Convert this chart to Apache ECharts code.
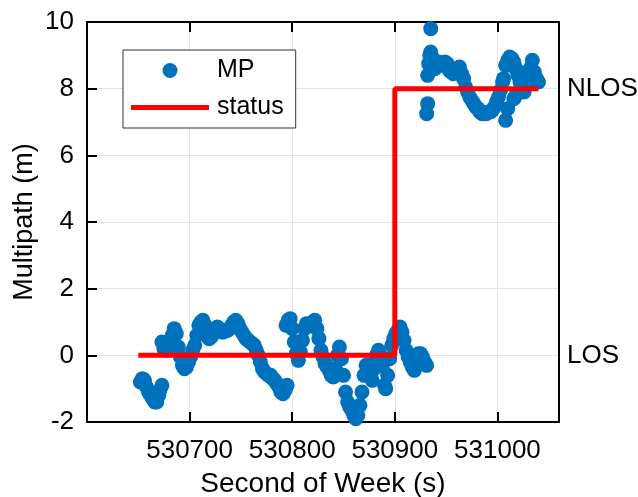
<!DOCTYPE html>
<html><head><meta charset="utf-8">
<script src="https://cdn.jsdelivr.net/npm/echarts@6/dist/echarts.min.js"></script>
<style>html,body{margin:0;padding:0;background:#fff}#c{width:638px;height:497px}</style>
</head><body><div id="c"></div>
<script>
const mpTime = [
530652,530654,530656,530658,530660,530662,530664,530666,530668,530670,530671,530673,
530673,530675,530677,530679,530681,530683,530685,530687,530689,530691,530693,530695,530697,530699,
530701,530703,530705,530707,530709,530711,530713,530715,530717,530719,530721,530723,530725,530727,
530729,530731,530733,530735,530737,530739,530741,530743,530745,530747,530749,530751,530753,530755,
530757,530759,530761,530763,530765,530767,530769,530771,530773,530775,530777,530779,530781,530783,
530785,530787,530789,530791,530793,530795,
530794,530796,530798,530800,530802,530804,530806,530808,530810,530812,530814,530816,530818,530820,
530822,530824,530826,530828,530830,530832,530834,530836,530838,530840,530842,530844,530846,530848,
530850,530852,530854,530856,530858,530860,530862,530864,530866,530868,530870,530872,530874,530876,
530878,530880,530882,530884,530886,530888,530890,530891,530893,530895,530897,530899,530901,530903,
530905,530907,530909,530911,530913,530915,530917,530919,530921,530923,530925,530927,530929,530931,
530931,530932,530932,530933,530934,530935,530935,
530937,530939,530941,530943,530945,530947,530949,530951,530953,530955,530957,530959,530961,530963,
530965,530967,530969,530971,530973,530975,530977,530979,530981,530983,530985,530987,530989,530991,
530993,530995,530997,530999,531001,531003,531005,531006,531008,531010,531012,531014,531016,531018,
531020,531022,531024,531026,531028,531030,531032,531034,531036,531038,531040,
531008,531010,531016,531018
];
const mpValue = [
-0.80,-0.70,-0.75,-0.95,-1.10,-1.20,-1.30,-1.40,-1.40,-1.20,-1.05,-0.90,
0.40,0.20,0.15,0.30,0.45,0.60,0.80,0.65,0.25,-0.05,-0.30,-0.40,-0.35,-0.20,
-0.05,0.15,0.30,0.60,0.90,1.00,1.05,0.90,0.65,0.50,0.55,0.70,0.80,0.85,
0.80,0.70,0.70,0.75,0.75,0.80,0.90,1.00,1.05,0.95,0.80,0.70,0.60,0.50,
0.45,0.40,0.35,0.30,0.15,0.00,-0.20,-0.40,-0.50,-0.55,-0.60,-0.60,-0.70,-0.75,
-0.85,-0.95,-1.10,-1.15,-1.05,-0.90,
0.90,1.05,1.10,0.80,0.40,0.05,-0.15,0.10,0.45,0.80,0.95,0.90,0.95,1.00,
1.05,0.80,0.50,0.15,-0.05,-0.25,-0.35,-0.45,-0.60,-0.65,-0.40,0.00,0.25,-0.10,
-0.60,-1.10,-1.40,-1.55,-1.65,-1.80,-1.90,-1.80,-1.50,-1.10,-0.60,-0.30,-0.30,-0.60,
-0.75,-0.40,0.00,0.15,0.00,-0.30,-0.90,-1.00,-0.60,-0.10,0.30,0.50,0.65,0.75,
0.85,0.70,0.45,0.15,-0.05,-0.20,-0.35,-0.45,-0.30,0.05,0.05,-0.05,-0.20,-0.30,
7.25,7.55,8.40,8.75,9.00,9.10,9.80,
8.90,8.60,8.70,8.80,8.75,8.70,8.80,8.75,8.55,8.50,8.45,8.50,8.60,8.65,
8.45,8.30,8.05,7.90,7.75,7.65,7.55,7.45,7.40,7.30,7.25,7.25,7.25,7.30,
7.30,7.35,7.45,7.60,7.75,7.95,8.20,8.30,8.70,8.85,8.95,8.90,8.80,8.60,
8.40,8.20,8.00,7.90,8.10,8.30,8.60,8.85,8.50,8.30,8.20,
7.05,7.40,7.70,7.80
];
const statusTime = [530650, 530900, 530900, 531040];
const statusValue = [0, 0, 8, 8];
const rightLabels = {8: 'NLOS', 0: 'LOS'};

const FONT = 'Liberation Sans, Arial, sans-serif';
const chart = echarts.init(document.getElementById('c'), null, {renderer: 'canvas'});
const axisLine = {show: true, onZero: false, lineStyle: {color: '#000', width: 2}};
const tick = {show: true, inside: true, length: 10, lineStyle: {color: '#000', width: 2}};
chart.setOption({
  animation: false,
  backgroundColor: '#fff',
  grid: {left: 87, top: 22, right: 79, bottom: 75, containLabel: false, outerBoundsMode: 'none'},
  legend: {
    left: 123, top: 50, orient: 'vertical',
    borderColor: '#333', borderWidth: 1, backgroundColor: '#fff',
    padding: [8, 12, 8, 8], itemGap: 12, itemWidth: 78, itemHeight: 15,
    textStyle: {fontFamily: FONT, fontSize: 25, color: '#000', padding: [0, 0, 0, 3]},
    data: [
      {name: 'MP', icon: 'circle'},
      {name: 'status', icon: 'path://M0,0H78V5H0Z', itemStyle: {color: '#FF0000'}}
    ]
  },
  xAxis: [{
    type: 'value', min: 530600, max: 531060, interval: 100,
    axisLine: axisLine, axisTick: tick,
    axisLabel: {fontFamily: FONT, fontSize: 26, color: '#000', margin: 16,
      formatter: v => (v === 530600 || v === 531060) ? '' : String(v)},
    splitLine: {show: true, lineStyle: {color: '#e3e3e3', width: 1}},
    name: 'Second of Week (s)', nameLocation: 'middle', nameGap: 48,
    nameTextStyle: {fontFamily: FONT, fontSize: 28, color: '#000'}
  }, {
    type: 'value', position: 'top', min: 530600, max: 531060, interval: 100,
    axisLine: axisLine, axisTick: tick, axisLabel: {show: false}, splitLine: {show: false}
  }],
  yAxis: [{
    type: 'value', min: -2, max: 10, interval: 2,
    axisLine: axisLine, axisTick: tick,
    axisLabel: {fontFamily: FONT, fontSize: 26, color: '#000', margin: 13},
    splitLine: {show: true, lineStyle: {color: '#e3e3e3', width: 1}},
    name: 'Multipath (m)', nameLocation: 'middle', nameGap: 49, nameMoveOverlap: false,
    nameTextStyle: {fontFamily: FONT, fontSize: 27, color: '#000'}
  }, {
    type: 'value', position: 'right', min: -2, max: 10, interval: 2,
    axisLine: axisLine, axisTick: {show: false},
    axisLabel: {fontFamily: FONT, fontSize: 26, color: '#000', margin: 8,
      formatter: v => rightLabels[v] || ''},
    splitLine: {show: false}
  }],
  series: [{
    name: 'MP', type: 'scatter', symbol: 'circle', symbolSize: 15,
    itemStyle: {color: '#0072BD', opacity: 1},
    data: mpTime.map((t, i) => [t, mpValue[i]]), z: 2
  }, {
    name: 'status', type: 'line', symbol: 'none', showSymbol: false,
    lineStyle: {color: '#FF0000', width: 5}, itemStyle: {color: '#FF0000'},
    data: statusTime.map((t, i) => [t, statusValue[i]]), z: 3
  }]
});
</script></body></html>
